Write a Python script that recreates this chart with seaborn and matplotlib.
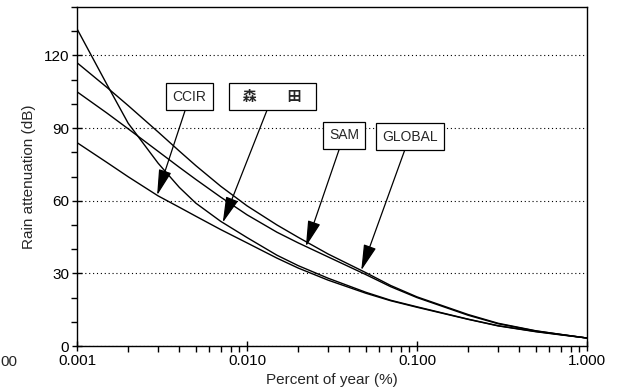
import numpy as np
import pandas as pd
import seaborn as sns
import matplotlib.pyplot as plt
from matplotlib.ticker import FixedLocator, FuncFormatter, LogLocator, NullFormatter, MultipleLocator

# percent of year (x) and rain attenuation in dB for each model
pct = [0.001, 0.0015, 0.002, 0.003, 0.004, 0.005, 0.007, 0.01, 0.015, 0.02,
       0.03, 0.05, 0.07, 0.1, 0.2, 0.3, 0.5, 0.7, 1.0]
morita = [131, 108, 92, 75.5, 65.5, 59, 51.5, 44.8, 37.5, 33.2,
          28.0, 22.2, 18.9, 16.2, 11.1, 8.4, 6.0, 4.7, 3.3]
ccir = [84, 75.8, 69.9, 62.0, 57.3, 53.6, 48.1, 42.6, 36.3, 32.2,
        27.2, 21.8, 18.7, 16.0, 11.0, 8.3, 5.9, 4.6, 3.3]
sam = [105, 96.2, 89.7, 80.4, 73.8, 68.8, 61.5, 54.2, 47.0, 42.6,
       36.8, 29.5, 24.5, 20.0, 12.7, 9.2, 6.2, 4.8, 3.3]
glob = [117, 106.8, 99.3, 88.4, 80.5, 74.5, 66.0, 57.9, 50.0, 44.9,
        38.0, 30.3, 25.0, 20.3, 13.0, 9.4, 6.3, 4.8, 3.3]

names = ["森田", "CCIR", "SAM", "GLOBAL"]

df = pd.DataFrame({
    "pct": pct * 4,
    "att": morita + ccir + sam + glob,
    "model": sum([[n] * len(pct) for n in names], []),
})

sns.set_style("white")
plt.rcParams["font.family"] = ["Liberation Sans", "Noto Sans CJK JP", "DejaVu Sans"]

fig = plt.figure(figsize=(6.23, 3.92), dpi=100)
ax = fig.add_axes([0.1236, 0.1173, 0.8186, 0.8648])

sns.lineplot(data=df, x="pct", y="att", hue="model", palette=["black"] * 4,
             legend=False, lw=1.0, ax=ax)

ax.set_xscale("log")
ax.set_xlim(0.001, 1.0)
ax.set_ylim(0, 140)

ax.xaxis.set_major_locator(FixedLocator([0.001, 0.01, 0.1, 1.0]))
ax.xaxis.set_major_formatter(FuncFormatter(lambda v, p: "%.3f" % v))
ax.xaxis.set_minor_locator(LogLocator(base=10, subs=np.arange(2, 10)))
ax.xaxis.set_minor_formatter(NullFormatter())
ax.yaxis.set_major_locator(FixedLocator([0, 30, 60, 90, 120]))
ax.yaxis.set_minor_locator(MultipleLocator(10))

ax.tick_params(axis="both", which="major", direction="inout", length=7, width=1,
               labelsize=11, colors="black", pad=2)
ax.tick_params(axis="both", which="minor", direction="out", length=4, width=1,
               colors="black")
ax.tick_params(axis="x", which="both", bottom=True)
ax.tick_params(axis="y", which="both", left=True)

ax.yaxis.grid(True, linestyle=(0, (1, 2.5)), color="black", lw=0.8)
ax.xaxis.grid(False)
for s in ax.spines.values():
    s.set_color("black")
    s.set_linewidth(1.0)

ax.set_xlabel("Percent of year (%)", fontsize=11, labelpad=4)
ax.set_ylabel("Rain attenuation (dB)", fontsize=11, labelpad=6)

# labels with arrows
labels = ["CCIR", "  森        田  ", "SAM", "GLOBAL"]
label_series = [ccir, morita, sam, glob]
tip_x = [0.00296, 0.0072, 0.0222, 0.047]
text_xy = [(0.0046, 103), (0.0141, 103), (0.0372, 87), (0.0905, 86.5)]
for lab, ser, tx, txy in zip(labels, label_series, tip_x, text_xy):
    ty = np.interp(np.log10(tx), np.log10(pct), ser)
    ax.annotate(lab, xy=(tx, ty), xytext=txy, ha="center", va="center",
                fontsize=10, fontweight="bold" if "森" in lab else "normal",
                bbox=dict(boxstyle="square,pad=0.45", fc="white", ec="black", lw=0.9),
                arrowprops=dict(arrowstyle="-|>,head_length=1.6,head_width=0.4",
                                color="black", lw=0.9, mutation_scale=10,
                                shrinkA=0, shrinkB=0))

# cut-off tick label from the neighbouring figure at the left edge
fig.text(0.0, 1 - 362 / 392, "00", fontsize=11, va="center", ha="left")

fig.savefig("out.png", dpi=100)
